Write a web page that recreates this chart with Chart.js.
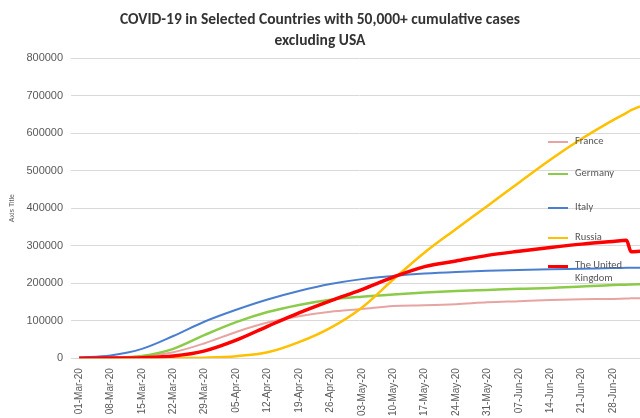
<!DOCTYPE html>
<html><head><meta charset="utf-8">
<script src="https://cdn.jsdelivr.net/npm/chart.js@4"></script>
<style>
body{margin:0;background:#fff;font-family:Calibri,"Liberation Sans",Arial,sans-serif}
#wrap{position:relative;width:640px;height:418px}
#title{position:absolute;left:0;width:640px;top:8px;text-align:center;font-weight:bold;font-size:15.5px;color:#333;line-height:21px}
#legend{position:absolute;left:548px;top:134px;font-size:10.5px;color:#555}
.li{display:flex;align-items:flex-start}
.sw{width:20px;height:0;margin-top:7px;margin-right:7px}
</style></head><body>
<div id="wrap">
<div id="title">COVID-19 in Selected Countries with 50,000+ cumulative cases<br>excluding USA</div>
<canvas id="c" width="640" height="418"></canvas>
<div id="legend"></div>
</div>
<script>
const sampleDates = ['01-Mar-20','08-Mar-20','15-Mar-20','22-Mar-20','29-Mar-20','05-Apr-20','12-Apr-20','19-Apr-20','26-Apr-20','03-May-20','10-May-20','17-May-20','24-May-20','31-May-20','07-Jun-20','14-Jun-20','21-Jun-20','28-Jun-20','01-Jul-20','02-Jul-20','04-Jul-20'];
const france  = [130,1100,5400,16000,40000,70000,95000,112000,124000,131000,139000,141000,144000,149000,152000,155000,157000,158000,159000,159500,160000];
const germany = [130,1000,5800,24900,62000,96000,123000,142000,156000,164000,170000,175000,179000,182000,185000,187000,191000,195000,196000,196500,197000];
const italy   = [1694,7375,24747,59138,97689,128948,156363,178972,197675,210717,219070,225435,229858,232997,234998,236989,238499,240310,240800,241000,241200];
const russia  = [0,17,63,367,1534,5389,15770,42853,80949,134687,209688,281752,344481,405843,467673,528964,584680,634437,654000,661000,671000];
const uk      = [36,270,1400,5700,19500,48000,85000,121000,153000,183000,216000,244000,259000,274000,285000,295000,304000,311000,314000,284000,285000];
const seriesNames = ['France','Germany','Italy','Russia','The United Kingdom'];
const colors = ['#E6A4A2','#8CCB4A','#4A7FD0','#FFC000','#FF0000'];
const widths = [2,2.5,2,2.5,3.5];

const months=['Jan','Feb','Mar','Apr','May','Jun','Jul'];
const labels=[];
for(let d=new Date(2020,2,1);d<=new Date(2020,6,4);d.setDate(d.getDate()+1)){
  labels.push(String(d.getDate()).padStart(2,'0')+'-'+months[d.getMonth()]+'-20');
}
const all=[france,germany,italy,russia,uk];
const datasets=all.map((arr,i)=>({label:seriesNames[i],data:arr.map((v,j)=>({x:sampleDates[j],y:v})),
  borderColor:colors[i],borderWidth:widths[i],pointRadius:0,cubicInterpolationMode:'monotone',fill:false,order:5-i}));
new Chart(document.getElementById('c'),{type:'line',data:{labels,datasets},
 options:{responsive:false,animation:false,
  layout:{padding:{top:58,right:0,left:6,bottom:0}},
  plugins:{legend:{display:false},tooltip:{enabled:false}},
  scales:{
   x:{grid:{display:false},border:{color:'#d9d9d9'},
      ticks:{autoSkip:false,maxRotation:90,minRotation:90,color:'#595959',font:{size:10},padding:2,
        callback:(v,i)=> i%7===0?labels[i]:null}},
   y:{min:0,max:800000,grid:{color:'#d9d9d9'},border:{display:false},
      ticks:{stepSize:100000,color:'#595959',font:{size:11},padding:8,callback:v=>String(v)},
      title:{display:true,text:'Axis Title',color:'#595959',font:{size:7},padding:2}}
  }}});
const lg=document.getElementById('legend');
const hs=[32,34,30,28,40];
seriesNames.forEach((n,i)=>{
  lg.innerHTML+=`<div class="li" style="height:${hs[i]}px"><div class="sw" style="border-top:${widths[i]}px solid ${colors[i]}"></div><div style="width:70px">${n.replace('The United ','The United<br>')}</div></div>`;
});
</script>
</body></html>
